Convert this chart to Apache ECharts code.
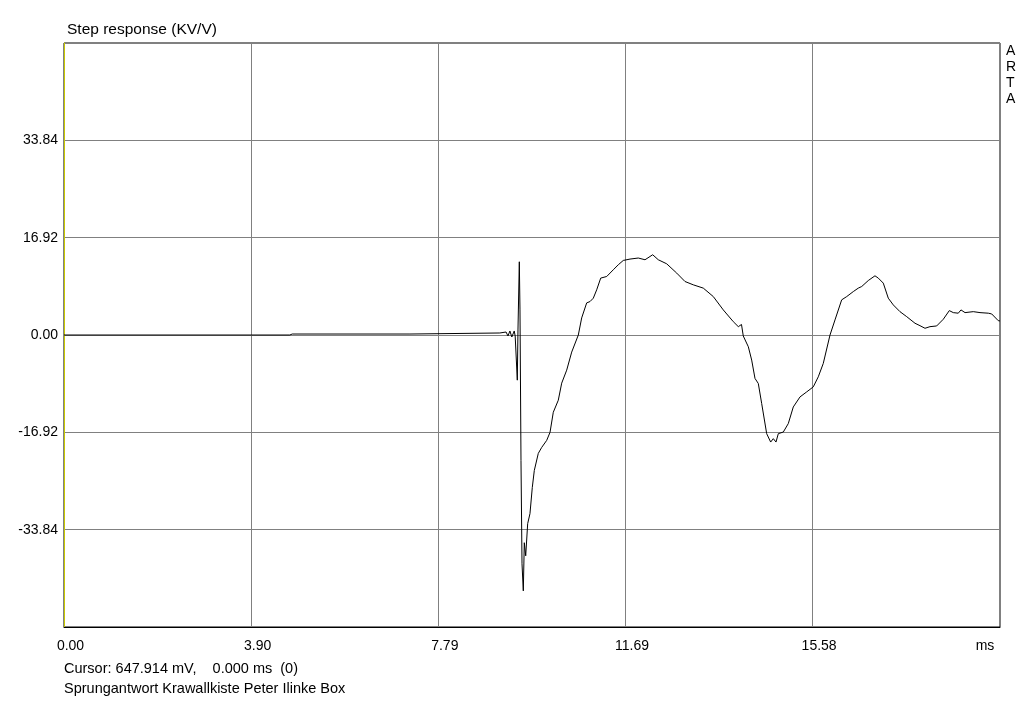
<!DOCTYPE html>
<html>
<head>
<meta charset="utf-8">
<script src="https://cdn.jsdelivr.net/npm/echarts@6/dist/echarts.min.js"></script>
<style>
  html, body { margin: 0; padding: 0; background: #fff; }
  #box { width: 1024px; height: 701px; }
</style>
</head>
<body>
<div id="box"></div>
<script>
// Sprungantwort, Zeit in ms
const timeMs = [0, 4.70, 4.75, 7.20, 7.24, 9.07, 9.20, 9.24, 9.28, 9.32, 9.37, 9.39,
  9.434, 9.448, 9.476, 9.49, 9.511, 9.532, 9.559, 9.580, 9.609, 9.650, 9.698, 9.746,
  9.788, 9.871, 9.942, 10.046, 10.115, 10.183, 10.287, 10.358, 10.462, 10.566, 10.704,
  10.774, 10.878, 10.947, 11.016, 11.086, 11.170, 11.295, 11.432, 11.536, 11.640, 11.780,
  11.952, 12.092, 12.252, 12.368, 12.543, 12.752, 12.924, 13.097, 13.305, 13.513, 13.721,
  13.929, 14.034, 14.100, 14.137, 14.242, 14.312, 14.381, 14.450, 14.520, 14.624, 14.707,
  14.762, 14.818, 14.866, 14.970, 15.074, 15.178, 15.318, 15.457, 15.594, 15.698, 15.802,
  15.942, 16.046, 16.185, 16.290, 16.427, 16.531, 16.602, 16.739, 16.878, 16.947, 17.051,
  17.155, 17.259, 17.398, 17.538, 17.711, 17.815, 17.919, 18.023, 18.162, 18.300, 18.425,
  18.508, 18.612, 18.668, 18.752, 18.924, 19.064, 19.237, 19.307, 19.444, 19.48];

// Werte in KV/V
const stepKV = [0, 0, 0.17, 0.17, 0.35, 0.35, 0.52, -0.17, 0.70, -0.35, 0.70, -0.17,
  -7.85, 0.87, 12.73, 4.36, -21.8, -39.77, -44.48, -36.11, -38.38, -32.79, -31.05, -26.51,
  -23.55, -20.58, -19.54, -18.32, -16.92, -13.43, -11.34, -8.37, -6.11, -2.97, 0,
  2.97, 5.58, 5.81, 6.40, 7.85, 9.89, 10.17, 11.34, 12.21, 12.96, 13.20,
  13.38, 13.08, 13.95, 13.08, 12.38, 10.76, 9.30, 8.72, 8.15, 6.68, 4.36,
  2.32, 1.45, 1.83, -0.17, -2.04, -4.36, -7.55, -8.43, -11.91, -17.15, -18.61,
  -18.02, -18.61, -17.15, -16.87, -15.40, -12.51, -10.76, -9.89, -9.02, -7.27, -4.94,
  0, 2.62, 6.11, 6.68, 7.55, 8.15, 8.43, 9.47, 10.29, 9.89, 9.02,
  6.40, 5.23, 4.06, 3.19, 2.04, 1.62, 1.17, 1.45, 1.57, 2.74, 4.24,
  3.89, 3.79, 4.36, 3.89, 4.06, 3.89, 3.79, 3.66, 2.49, 2.44];

const xTicks = [0, 3.895, 7.79, 11.685, 15.58, 19.48];
const yTicks = [-50.76, -33.84, -16.92, 0, 16.92, 33.84, 50.76];

const fontFam = 'Arial, "Liberation Sans", sans-serif';
const chart = echarts.init(document.getElementById('box'), null, {renderer: 'canvas'});

let points = timeMs.map((t, i) => [t, stepKV[i]]);

function fmt(v) { // -0.00 vermeiden
  return (Math.abs(v) < 1e-6 ? 0 : v).toFixed(2);
}

let option = {
  animation: false,
  backgroundColor: '#fff',
  textStyle: {fontFamily: fontFam},
  grid: {left: 64, right: 24, top: 43, bottom: 74, show: true, borderColor: '#000', borderWidth: 1},
  xAxis: {
    type: 'value',
    min: xTicks[0],
    max: xTicks[xTicks.length - 1],
    interval: xTicks[1] - xTicks[0],
    axisLine: {onZero: false, lineStyle: {color: '#000', width: 1}},
    axisTick: {show: false},
    splitLine: {lineStyle: {color: '#808080', width: 1}},
    axisLabel: {
      margin: 12,
      color: '#000',
      fontSize: 14,
      fontFamily: fontFam,
      showMaxLabel: true,
      formatter: v => (v > 19 ? '{u|ms}' : '{n|' + fmt(v) + '}'),
      rich: {
        u: {fontSize: 14, fontFamily: fontFam, color: '#000', padding: [0, 30, 0, 0]},
        n: {fontSize: 14, fontFamily: fontFam, color: '#000', padding: [0, 0, 0, 13]}
      }
    }
  },
  yAxis: {
    type: 'value',
    min: yTicks[0],
    max: yTicks[yTicks.length - 1],
    interval: yTicks[1] - yTicks[0],
    axisLine: {show: true, lineStyle: {color: '#c8c800', width: 1}},
    axisTick: {show: false},
    splitLine: {lineStyle: {color: '#808080', width: 1}},
    axisLabel: {
      margin: 6,
      color: '#000',
      fontSize: 14,
      fontFamily: fontFam,
      formatter: v => (Math.abs(v) > 50 ? '' : fmt(v))
    }
  },
  graphic: [
    {type: 'text', left: 67, top: 22, style: {text: 'Step response (KV/V)', fontSize: 15.5, fontFamily: fontFam, fill: '#000'}},
    {type: 'text', left: 1006, top: 43, style: {text: 'A\nR\nT\nA', fontSize: 14, lineHeight: 16, fontFamily: fontFam, fill: '#000'}},
    {type: 'text', left: 64, top: 661, style: {text: 'Cursor: 647.914 mV,    0.000 ms  (0)', fontSize: 14.5, fontFamily: fontFam, fill: '#000'}},
    {type: 'text', left: 64, top: 681, style: {text: 'Sprungantwort Krawallkiste Peter Ilinke Box', fontSize: 14.5, fontFamily: fontFam, fill: '#000'}}
  ],
  series: [
    {
      type: 'line',
      data: points,
      showSymbol: false,
      lineStyle: {color: '#000', width: 1},
      silent: true
    }
  ]
};

chart.setOption(option);
</script>
</body>
</html>
